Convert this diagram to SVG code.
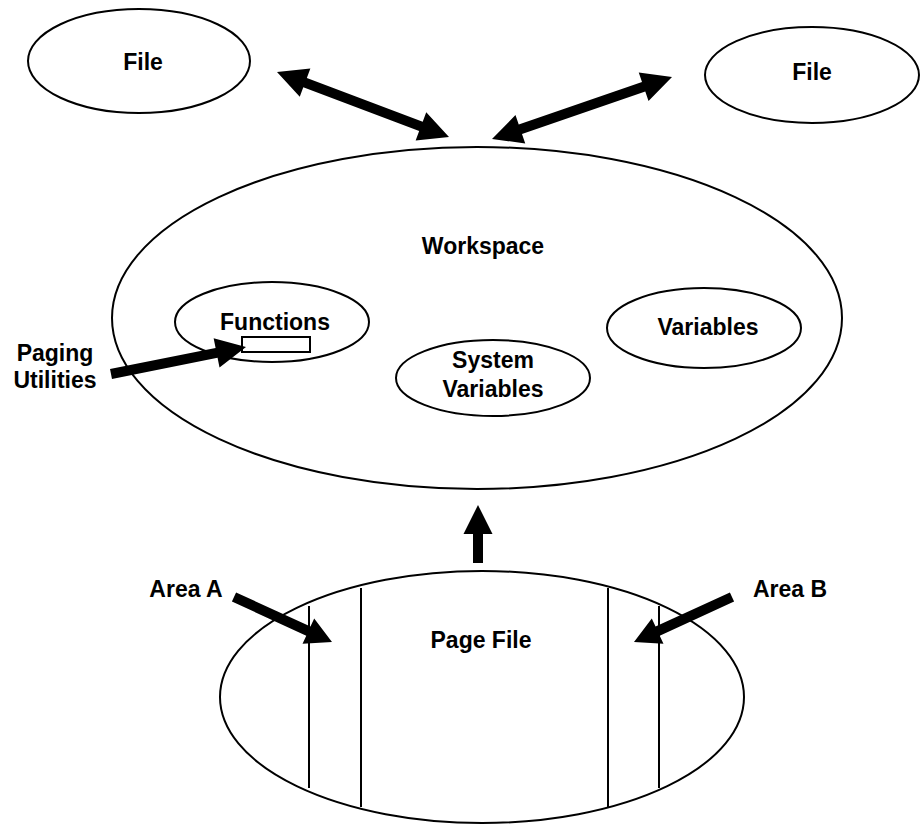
<svg xmlns="http://www.w3.org/2000/svg" width="920" height="824" viewBox="0 0 920 824">
  <style>
    .shape { fill: #ffffff; stroke: #000000; stroke-width: 2; }
    .rule { stroke: #000000; stroke-width: 2; fill: none; }
    .arrow { fill: #000000; stroke: none; }
    .label { font-family: "Liberation Sans", Arial, Helvetica, sans-serif; font-weight: bold; font-size: 23px; fill: #000000; text-anchor: middle; }
  </style>
  <rect width="920" height="824" fill="#ffffff"/>

  <g id="file-left">
    <ellipse class="shape" cx="139" cy="61" rx="111" ry="52"/>
    <text class="label" x="143" y="70">File</text>
  </g>

  <g id="file-right">
    <ellipse class="shape" cx="812" cy="75" rx="107" ry="48"/>
    <text class="label" x="812" y="80">File</text>
  </g>

  <g id="workspace">
    <ellipse class="shape" cx="477" cy="318" rx="365" ry="171"/>
    <text class="label" x="483" y="254">Workspace</text>
  </g>

  <g id="functions">
    <ellipse class="shape" cx="272" cy="322" rx="97" ry="40"/>
    <text class="label" x="275" y="330">Functions</text>
    <rect class="shape" x="242" y="337" width="68" height="15" stroke-width="1.5"/>
  </g>

  <g id="system-variables">
    <ellipse class="shape" cx="493" cy="378" rx="97" ry="38"/>
    <text class="label" x="493" y="368">System</text>
    <text class="label" x="493" y="397">Variables</text>
  </g>

  <g id="variables">
    <ellipse class="shape" cx="704" cy="328" rx="97" ry="40"/>
    <text class="label" x="708" y="335">Variables</text>
  </g>

  <g id="page-file">
    <ellipse class="shape" cx="482" cy="697" rx="262" ry="126"/>
    <line class="rule" x1="309" y1="606" x2="309" y2="788"/>
    <line class="rule" x1="361" y1="588" x2="361" y2="807"/>
    <line class="rule" x1="608" y1="588" x2="608" y2="807"/>
    <line class="rule" x1="659" y1="606" x2="659" y2="788"/>
    <text class="label" x="481" y="648">Page File</text>
  </g>

  <g id="paging-utilities">
    <text class="label" x="55" y="361">Paging</text>
    <text class="label" x="55" y="388">Utilities</text>
  </g>

  <g id="area-a">
    <text class="label" x="186" y="597">Area A</text>
  </g>

  <g id="area-b">
    <text class="label" x="790" y="597">Area B</text>
  </g>

  <g id="connectors">
    <!-- left file <-> workspace -->
    <polygon class="arrow" points="277,72 299.76,96.64 303.29,87.29 419.17,131.07 415.64,140.42 449,137 426.24,112.36 422.71,121.71 306.83,77.93 310.36,68.58"/>
    <!-- right file <-> workspace -->
    <polygon class="arrow" points="492,139 515.47,115.05 518.73,124.5 642.01,82.04 638.75,72.59 672,77 648.53,100.95 645.27,91.5 521.99,133.96 525.25,143.41"/>
    <!-- page file -> workspace -->
    <polygon class="arrow" points="478,505 492.5,534 483,534 483,563 473,563 473,534 463.5,534"/>
    <!-- paging utilities -> functions -->
    <polygon class="arrow" points="111.98,378.9 217.56,357.78 219.52,367.59 246,347 213.64,338.17 215.6,347.98 110.02,369.1"/>
    <!-- area A pointer -->
    <polygon class="arrow" points="231.91,601.54 306.28,635.69 302.53,643.87 332,642 314.21,618.43 310.46,626.61 236.09,592.46"/>
    <!-- area B pointer -->
    <polygon class="arrow" points="734.09,601.54 659.72,635.69 663.47,643.87 634,642 651.79,618.43 655.54,626.61 729.91,592.46"/>
  </g>
</svg>
